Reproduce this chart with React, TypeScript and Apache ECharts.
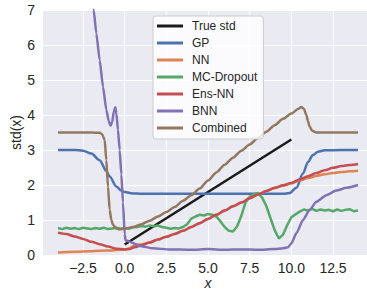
import React, { useEffect, useRef } from "react";
import * as echarts from "echarts";

const FONT = "'Liberation Sans', Arial, 'DejaVu Sans', sans-serif";

const seriesNames = ["True std", "GP", "NN", "MC-Dropout", "Ens-NN", "BNN", "Combined"];
const seriesColors = ["#1a1a1a", "#4C72B0", "#DD8452", "#55A868", "#C44E52", "#8172B3", "#937860"];

const xTickValues = [-2.5, 0, 2.5, 5, 7.5, 10, 12.5];

const trueX = [0, 2.5, 5, 7.5, 10];
const trueY = [0.3, 1.05, 1.8, 2.55, 3.3];

const gpX = [-4, -3, -2.5, -2, -1.5, -1.1, -0.9, -0.5, -0.2, 0, 0.5, 1, 9.5, 9.9, 10.3, 10.7, 11, 11.3, 11.6, 12, 13, 14];
const gpY = [3.0, 3.0, 2.98, 2.9, 2.71, 2.4, 2.24, 1.96, 1.84, 1.8, 1.76, 1.75, 1.75, 1.77, 1.92, 2.33, 2.66, 2.86, 2.95, 2.99, 3.0, 3.0];

const nnX = [-4, -3, -2, -1, 0, 0.3, 0.5, 0.7, 1, 1.5, 2, 2.5, 3, 3.5, 4, 4.5, 5, 5.5, 6, 6.5, 7, 7.5, 8, 8.5, 9, 9.5, 10, 10.5, 11, 11.5, 12, 12.5, 13, 13.5, 14];
const nnY = [0.07, 0.09, 0.11, 0.13, 0.16, 0.19, 0.25, 0.3, 0.3, 0.36, 0.44, 0.52, 0.6, 0.69, 0.8, 0.91, 1.03, 1.15, 1.27, 1.39, 1.5, 1.62, 1.73, 1.83, 1.91, 1.98, 2.05, 2.13, 2.2, 2.26, 2.31, 2.34, 2.37, 2.39, 2.41];

const mcX = [-4, -3.75, -3.5, -3.25, -3, -2.75, -2.5, -2.25, -2, -1.75, -1.5, -1.25, -1, -0.75, -0.5, -0.25, 0, 0.25, 0.5, 0.75, 1, 1.25, 1.5, 1.75, 2, 2.25, 2.5, 2.75, 3, 3.25, 3.5, 3.75, 4, 4.25, 4.5, 4.75, 5, 5.25, 5.5, 5.75, 6, 6.25, 6.5, 6.75, 7, 7.25, 7.5, 7.75, 8, 8.25, 8.5, 8.75, 9, 9.25, 9.5, 9.75, 10, 10.25, 10.5, 10.75, 11, 11.25, 11.5, 11.75, 12, 12.25, 12.5, 12.75, 13, 13.25, 13.5, 13.75, 14];
const mcY = [0.77, 0.74, 0.78, 0.75, 0.77, 0.74, 0.78, 0.76, 0.74, 0.77, 0.75, 0.78, 0.74, 0.76, 0.78, 0.75, 0.77, 0.75, 0.79, 0.8, 0.83, 0.81, 0.84, 0.82, 0.84, 0.8, 0.78, 0.75, 0.77, 0.76, 0.8, 0.88, 1.04, 1.1, 1.15, 1.13, 1.17, 1.15, 1.1, 0.96, 0.8, 0.69, 0.67, 0.82, 1.12, 1.5, 1.66, 1.74, 1.77, 1.64, 1.4, 1.05, 0.71, 0.47, 0.58, 0.85, 1.08, 1.16, 1.24, 1.3, 1.27, 1.32, 1.26, 1.3, 1.27, 1.29, 1.25, 1.3, 1.26, 1.29, 1.31, 1.25, 1.27];

const ensX = [-4, -3.5, -3, -2.5, -2, -1.5, -1, -0.5, 0, 0.3, 0.6, 1, 1.5, 2, 2.5, 3, 3.5, 4, 4.5, 5, 5.5, 6, 6.5, 7, 7.5, 8, 8.5, 9, 9.5, 10, 10.5, 11, 11.5, 12, 12.5, 13, 13.5, 14];
const ensY = [0.64, 0.6, 0.53, 0.46, 0.38, 0.31, 0.24, 0.18, 0.16, 0.17, 0.22, 0.28, 0.36, 0.44, 0.52, 0.6, 0.69, 0.8, 0.91, 1.03, 1.15, 1.27, 1.39, 1.5, 1.62, 1.73, 1.83, 1.92, 1.99, 2.06, 2.16, 2.25, 2.34, 2.42, 2.49, 2.54, 2.57, 2.6];

const bnnX = [-4, -3, -2.5, -2, -1.86, -1.7, -1.5, -1.3, -1.1, -0.95, -0.84, -0.75, -0.65, -0.56, -0.5, -0.4, -0.3, -0.2, -0.1, 0, 0.05, 0.3, 0.9, 1.7, 2.7, 4, 5, 6, 7, 8, 9, 9.5, 9.8, 10, 10.3, 10.7, 11.1, 11.5, 12.1, 12.7, 13.3, 14];
const bnnY = [16, 11.5, 9.6, 7.6, 7.0, 6.33, 5.57, 4.81, 4.14, 3.82, 3.69, 3.8, 4.1, 4.22, 4.05, 3.57, 3.0, 2.3, 1.5, 0.6, 0.42, 0.38, 0.26, 0.19, 0.16, 0.15, 0.17, 0.15, 0.16, 0.15, 0.17, 0.19, 0.22, 0.33, 0.62, 1.0, 1.29, 1.52, 1.71, 1.84, 1.92, 2.0];

const combX = [-4, -2, -1.5, -1.35, -1.2, -1.1, -1.0, -0.9, -0.8, -0.7, -0.5, -0.3, 0, 0.5, 1, 1.5, 2, 2.5, 3, 3.5, 4, 4.5, 5, 5.5, 6, 6.5, 7, 7.5, 8, 8.5, 9, 9.5, 10, 10.4, 10.6, 10.75, 10.9, 11.0, 11.1, 11.25, 11.5, 12, 14];
const combY = [3.5, 3.5, 3.49, 3.45, 3.29, 2.71, 1.95, 1.29, 1.0, 0.86, 0.76, 0.73, 0.75, 0.8, 0.88, 0.98, 1.1, 1.23, 1.37, 1.55, 1.71, 1.9, 2.13, 2.36, 2.58, 2.78, 2.98, 3.16, 3.34, 3.52, 3.71, 3.89, 4.04, 4.17, 4.23, 4.18, 4.0, 3.82, 3.67, 3.55, 3.5, 3.5, 3.5];

const allX = [trueX, gpX, nnX, mcX, ensX, bnnX, combX];
const allY = [trueY, gpY, nnY, mcY, ensY, bnnY, combY];
const smoothing = [0, 0.3, 0.3, 0, 0.3, 0.2, 0.25];

function fmtX(v: number): string {
  const s = Math.abs(v).toFixed(1);
  return v < 0 ? "\u2212" + s : s;
}

export default function App() {
  const ref = useRef<HTMLDivElement>(null);
  useEffect(() => {
    if (!ref.current) return;
    const chart = echarts.init(ref.current, undefined, { renderer: "svg" });
    const series = seriesNames.map((name, i) => ({
      name,
      type: "line",
      data: allX[i].map((x, j) => [x, allY[i][j]]),
      showSymbol: false,
      symbol: "none",
      smooth: smoothing[i],
      smoothMonotone: "x",
      lineStyle: { color: seriesColors[i], width: 2.5 },
      itemStyle: { color: seriesColors[i] },
      clip: true,
    }));
    chart.setOption({
      animation: false,
      backgroundColor: "#ffffff",
      textStyle: { fontFamily: FONT },
      grid: {
        left: 43,
        top: 10,
        right: -6,
        bottom: 36,
        outerBoundsMode: "none",
        containLabel: false,
        show: true,
        backgroundColor: "#EAEAF2",
        borderWidth: 0,
      },
      xAxis: {
        type: "value",
        min: -4.9,
        max: 14.9,
        name: "x",
        nameLocation: "middle",
        nameGap: 21,
        nameMoveOverlap: false,
        nameTextStyle: { fontSize: 14, fontStyle: "italic", color: "#262626", fontFamily: FONT, lineHeight: 14 },
        axisLine: { show: false },
        axisTick: { show: false, customValues: xTickValues },
        axisLabel: {
          customValues: xTickValues,
          formatter: (v: number) => fmtX(v),
          fontSize: 14,
          color: "#262626",
          margin: 6,
          fontFamily: FONT,
        },
        splitLine: { show: true, lineStyle: { color: "#ffffff", width: 1 } },
      },
      yAxis: {
        type: "value",
        min: 0,
        max: 7,
        interval: 1,
        name: "std(x)",
        nameLocation: "middle",
        nameGap: 20,
        nameMoveOverlap: false,
        nameTextStyle: { fontSize: 14, color: "#262626", fontFamily: FONT },
        axisLine: { show: false },
        axisTick: { show: false },
        axisLabel: { fontSize: 14, color: "#262626", margin: 8, fontFamily: FONT },
        splitLine: { show: true, lineStyle: { color: "#ffffff", width: 1 } },
      },
      legend: {
        data: seriesNames,
        orient: "vertical",
        left: 153,
        top: 16,
        icon: "rect",
        itemWidth: 26,
        itemHeight: 3,
        itemGap: 3,
        padding: [3, 6, 4, 4],
        backgroundColor: "rgba(255,255,255,0.8)",
        borderColor: "#cccccc",
        borderWidth: 1,
        borderRadius: 3,
        textStyle: { fontSize: 12, color: "#262626", fontFamily: FONT, lineHeight: 14, padding: [0, 0, 0, 4] },
      },
      series,
    });
    return () => chart.dispose();
  }, []);
  return (
    <div
      ref={ref}
      style={{ position: "fixed", left: 0, top: 0, width: 367, height: 291 }}
    />
  );
}
